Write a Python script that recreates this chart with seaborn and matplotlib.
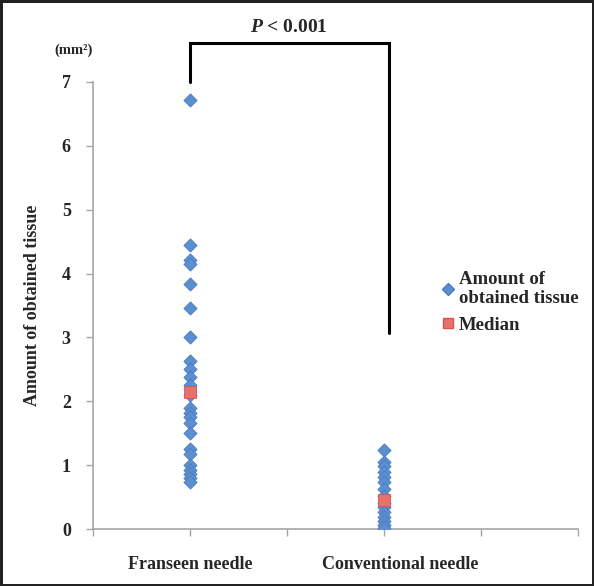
"""Amount of obtained tissue: Franseen vs conventional needle."""

import matplotlib

matplotlib.use("Agg")
import matplotlib.pyplot as plt
from matplotlib.lines import Line2D
import pandas as pd
import seaborn as sns


GROUPS = ["Franseen needle", "Conventional needle"]
GROUP_X = [1, 3]

FRANSEEN = [6.72, 4.45, 4.22, 4.15, 3.84, 3.46, 3.00, 2.63, 2.50, 2.38, 2.26, 2.10,
            1.90, 1.82, 1.76, 1.66, 1.50, 1.25, 1.18, 1.00, 0.93, 0.86, 0.80, 0.74]
CONVENTIONAL = [1.24, 1.05, 0.98, 0.90, 0.81, 0.74, 0.62, 0.52, 0.40, 0.35, 0.27,
                0.19, 0.12, 0.07, 0.02]
MEDIANS = [2.14, 0.45]

Y_TICKS = [0, 1, 2, 3, 4, 5, 6, 7]

BLUE = "#5b8fd0"
BLUE_EDGE = "#4a7cc0"
RED = "#e8716c"
AXIS_GREY = "#a6a6a6"


def main() -> None:
    sns.set_theme(style="white")
    plt.rcParams["font.family"] = ["Liberation Serif", "DejaVu Serif"]
    plt.rcParams["font.weight"] = "bold"
    plt.rcParams.update(
        {
            "mathtext.fontset": "custom",
            "mathtext.rm": "Liberation Serif:bold",
            "mathtext.it": "Liberation Serif:italic:bold",
            "mathtext.bf": "Liberation Serif:bold",
        }
    )

    points = pd.DataFrame(
        {
            "x": [GROUP_X[0]] * len(FRANSEEN) + [GROUP_X[1]] * len(CONVENTIONAL),
            "y": FRANSEEN + CONVENTIONAL,
        }
    )
    medians = pd.DataFrame({"x": GROUP_X, "y": MEDIANS})

    fig = plt.figure(figsize=(5.94, 5.86), dpi=100)
    fig.patch.set_edgecolor("#222222")
    fig.patch.set_linewidth(2.5)
    ax = fig.add_axes([93 / 594, 57 / 586, 485 / 594, 447 / 586])

    sns.scatterplot(data=points, x="x", y="y", marker="D", s=45, color=BLUE,
                    edgecolor=BLUE_EDGE, linewidth=0.6, ax=ax, zorder=3)
    sns.scatterplot(data=medians, x="x", y="y", marker="s", s=80, color=RED,
                    edgecolor="#d9534f", linewidth=0.6, ax=ax, zorder=4)

    ax.set_xlim(0, 5)
    ax.set_ylim(0, 7)
    ax.set_yticks(Y_TICKS)
    ax.set_yticklabels([str(t) for t in Y_TICKS], fontsize=13, fontweight="bold")
    ax.set_xticks(range(6))
    ax.set_xticklabels([""] * 6)
    ax.set_xlabel("")
    ax.set_ylabel("Amount of obtained tissue", fontsize=13, fontweight="bold",
                  labelpad=15)

    for side in ["top", "right"]:
        ax.spines[side].set_visible(False)
    for side in ["left", "bottom"]:
        ax.spines[side].set_color(AXIS_GREY)
        ax.spines[side].set_linewidth(1.2)
    ax.tick_params(axis="both", direction="out", length=5, width=1,
                   color=AXIS_GREY, left=True, bottom=True, pad=11)

    # category labels sit under the points, placed by hand as in the original
    ax.text(GROUP_X[0], -0.55, GROUPS[0], ha="center", va="center",
            fontsize=13, fontweight="bold")
    ax.text(GROUP_X[1] + 0.17, -0.55, GROUPS[1], ha="center", va="center",
            fontsize=13, fontweight="bold")

    ax.text(-0.2, 7.5, "(mm²)", ha="center", va="center", fontsize=10.5,
            fontweight="bold", clip_on=False)

    # significance bracket
    bx = [GROUP_X[0], GROUP_X[0], 3.05, 3.05]
    by = [7.0, 7.615, 7.615, 3.07]
    ax.plot(bx, by, color="black", linewidth=2.2, clip_on=False,
            solid_joinstyle="miter", zorder=5)
    ax.text(2.02, 7.86, "$P$ < 0.001", ha="center", va="center",
            fontsize=14, fontweight="bold", clip_on=False)

    handles = [
        Line2D([], [], marker="D", linestyle="", markersize=6,
               markerfacecolor=BLUE, markeredgecolor=BLUE_EDGE),
        Line2D([], [], marker="s", linestyle="", markersize=7.5,
               markerfacecolor=RED, markeredgecolor="#d9534f"),
    ]
    fig.legend(handles, ["Amount of\nobtained tissue", "Median"],
               loc="upper left", bbox_to_anchor=(425 / 594, 1 - 254 / 586),
               frameon=False, handlelength=0.6, handletextpad=0.3,
               labelspacing=0.5, prop={"size": 13.5, "weight": "bold"})

    fig.savefig("out.png", dpi=100)
    plt.close(fig)


if __name__ == "__main__":
    main()
